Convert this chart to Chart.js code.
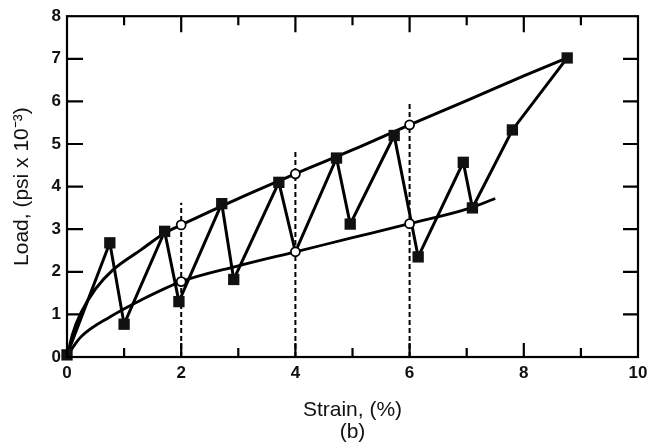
<!DOCTYPE html>
<html>
<head>
  <script src="https://cdn.jsdelivr.net/npm/chart.js@4.4.1/dist/chart.umd.min.js"></script>
  <style>
    body{margin:0;background:#fff;}
  </style>
</head>
<body>
  <canvas id="myChart" width="659" height="445"></canvas>
  <script>
    // zigzag load path (filled squares)
    let zigX=[0,0.75,1.0,1.71,1.96,2.71,2.92,3.71,4.0,4.72,4.96,5.73,6.15,6.94,7.1,7.8,8.76];
    let zigY=[0.05,2.68,0.77,2.95,1.3,3.6,1.82,4.1,2.47,4.67,3.12,5.2,2.35,4.57,3.5,5.33,7.02];
    // upper envelope curve
    let upperX=[0,0.1,0.25,0.5,0.8,1.3,1.7,2,3,4,5,6,7,8,8.76];
    let upperY=[0,0.55,1.05,1.6,2.04,2.52,2.9,3.1,3.72,4.3,4.86,5.45,6.02,6.6,7.02];
    // lower curve
    let lowerX=[0,0.1,0.25,0.75,1.3,2,3,4,5,6,7,7.5];
    let lowerY=[0,0.22,0.48,0.94,1.34,1.77,2.14,2.47,2.8,3.13,3.47,3.72];
    // open circles
    let circleX=[2,4,6,2,4,6];
    let circleY=[3.1,4.3,5.45,1.77,2.47,3.13];
    // dashed verticals
    let dashX=[2,4,6];
    let dashTop=[3.62,4.86,5.96];
    // tick marks
    let xTicks=[1,2,3,4,5,6,7,8,9];
    let yTicks=[1,2,3,4,5,6,7];

    function pts(xs,ys){
      let out=[];
      for(let i=0;i<xs.length;i++) out.push({x:xs[i],y:ys[i]});
      return out;
    }

    let font="'Liberation Sans', Arial, Helvetica, sans-serif";

    let datasets=[
      {
        label:'circles',
        data:pts(circleX,circleY),
        showLine:false,
        pointStyle:'circle',
        pointRadius:4.5,
        pointBackgroundColor:'#fff',
        pointBorderColor:'#000',
        pointBorderWidth:1.8
      },
      {
        label:'zigzag',
        data:pts(zigX,zigY),
        showLine:true,
        clip:false,
        borderColor:'#000',
        borderWidth:3,
        tension:0,
        pointStyle:'rect',
        pointRadius:c=>(c.raw && c.raw.x===4)?0:8,
        pointBackgroundColor:'#111',
        pointBorderColor:'#111',
        pointBorderWidth:0
      },
      {
        label:'upper',
        data:pts(upperX,upperY),
        showLine:true,
        borderColor:'#000',
        borderWidth:3,
        cubicInterpolationMode:'monotone',
        pointRadius:0
      },
      {
        label:'lower',
        data:pts(lowerX,lowerY),
        showLine:true,
        borderColor:'#000',
        borderWidth:2.8,
        cubicInterpolationMode:'monotone',
        pointRadius:0
      }
    ];
    for(let i=0;i<dashX.length;i++){
      datasets.push({
        label:'dash'+i,
        data:[{x:dashX[i],y:0},{x:dashX[i],y:dashTop[i]}],
        showLine:true,
        borderColor:'#000',
        borderWidth:2,
        borderDash:[5,3],
        pointRadius:0
      });
    }

    let frame={
      id:'frame',
      afterDatasetsDraw(chart){
        let c=chart.ctx, a=chart.chartArea;
        let xs=chart.scales.x, ys=chart.scales.y;
        c.save();
        c.strokeStyle='#000';
        c.lineWidth=2.2;
        c.strokeRect(a.left,a.top,a.right-a.left,a.bottom-a.top);
        c.beginPath();
        xTicks.forEach(v=>{
          let px=xs.getPixelForValue(v);
          let major=v%2===0;
          c.moveTo(px,a.bottom); c.lineTo(px,a.bottom-(major?14:9));
          c.moveTo(px,a.top); c.lineTo(px,a.top+(major?16:9));
        });
        yTicks.forEach(v=>{
          let py=ys.getPixelForValue(v);
          c.moveTo(a.left,py); c.lineTo(a.left+16,py);
          c.moveTo(a.right,py); c.lineTo(a.right-15,py);
        });
        c.stroke();
        c.restore();
      }
    };

    new Chart(document.getElementById('myChart').getContext('2d'),{
      type:'scatter',
      data:{datasets:datasets},
      options:{
        responsive:false,
        animation:false,
        layout:{padding:{top:16,right:21,left:0,bottom:0}},
        plugins:{legend:{display:false},tooltip:{enabled:false}},
        scales:{
          x:{
            type:'linear',min:0,max:10,
            grid:{display:false,drawTicks:false,tickLength:0},
            border:{display:false},
            ticks:{stepSize:2,padding:6,color:'#111',font:{family:font,size:17,weight:'bold'}},
            title:{display:true,text:['Strain, (%)','(b)'],color:'#111',
              font:{family:font,size:21,lineHeight:1.05},padding:{top:0,bottom:2}},
            afterFit:s=>{s.height=88;}
          },
          y:{
            type:'linear',min:0,max:8,
            grid:{display:false,drawTicks:false,tickLength:0},
            border:{display:false},
            ticks:{stepSize:1,padding:6,color:'#111',font:{family:font,size:17,weight:'bold'}},
            title:{display:true,text:'Load, (psi x 10\u207B\u00B3)',color:'#111',
              font:{family:font,size:21,lineHeight:1.2},padding:{top:10,bottom:0}},
            afterFit:s=>{s.width=67;}
          }
        }
      },
      plugins:[frame]
    });
  </script>
</body>
</html>
